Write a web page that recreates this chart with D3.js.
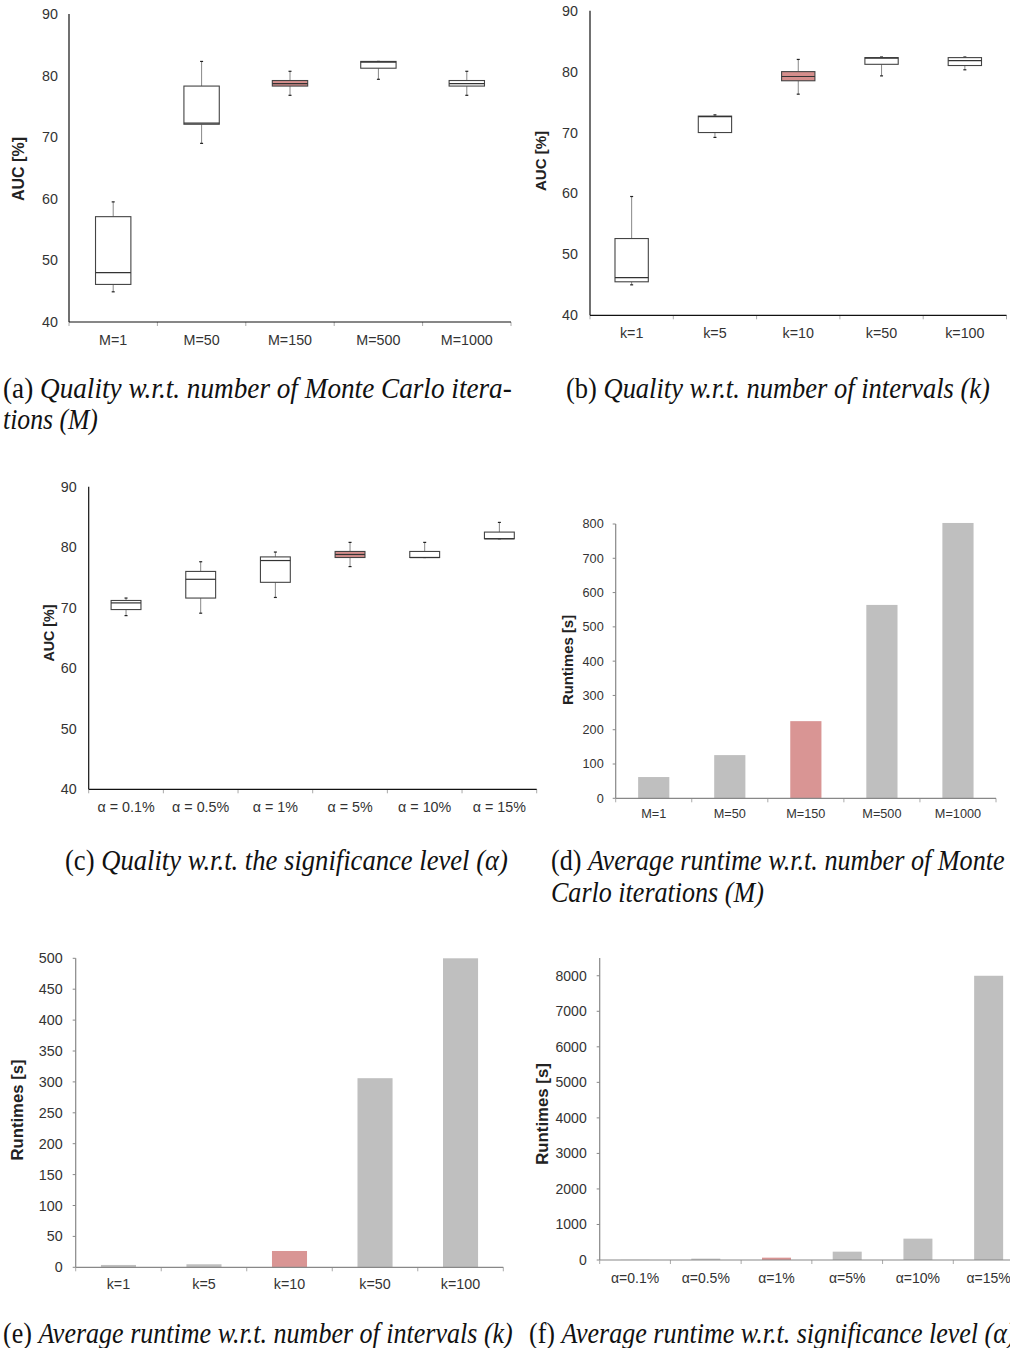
<!DOCTYPE html>
<html>
<head>
<meta charset="utf-8">
<script src="https://cdn.jsdelivr.net/npm/d3@7"></script>
<style>
  body { margin: 0; background: #fff; }
  svg { display: block; }
</style>
</head>
<body>
<div id="chart"></div>
<script>
// ---- data ----
const mCats = ["M=1", "M=50", "M=150", "M=500", "M=1000"];
const kCats = ["k=1", "k=5", "k=10", "k=50", "k=100"];
const alphaCats = ["α = 0.1%", "α = 0.5%", "α = 1%", "α = 5%", "α = 10%", "α = 15%"];
const alphaCatsShort = ["α=0.1%", "α=0.5%", "α=1%", "α=5%", "α=10%", "α=15%"];

// (a) AUC vs M  (min, q1, median, q3, max)
const aucM_min = [44.9, 69.0, 76.8, 79.4, 76.8];
const aucM_q1 = [46.1, 72.1, 78.3, 81.2, 78.3];
const aucM_med = [48.0, 72.3, 78.7, 82.2, 78.7];
const aucM_q3 = [57.1, 78.3, 79.2, 82.3, 79.2];
const aucM_max = [59.5, 82.3, 80.7, 82.3, 80.7];

// (b) AUC vs k
const aucK_min = [45.0, 69.2, 76.3, 79.3, 80.3];
const aucK_q1 = [45.5, 70.0, 78.5, 81.2, 81.0];
const aucK_med = [46.2, 72.6, 79.2, 82.2, 81.8];
const aucK_q3 = [52.6, 72.7, 80.0, 82.3, 82.3];
const aucK_max = [59.5, 72.9, 82.0, 82.4, 82.4];

// (c) AUC vs alpha
const aucA_min = [68.7, 69.1, 71.7, 76.8, 78.3, 81.4];
const aucA_q1 = [69.7, 71.6, 74.2, 78.3, 78.3, 81.4];
const aucA_med = [70.8, 74.7, 77.8, 78.8, 78.3, 81.4];
const aucA_q3 = [71.2, 76.0, 78.4, 79.3, 79.3, 82.5];
const aucA_max = [71.6, 77.6, 79.2, 80.8, 80.8, 84.1];

// runtimes [s]
const runM = [62, 126, 225, 564, 803];
const runK = [3.8, 4.9, 26.4, 306, 500];
const runA = [5, 38, 66, 235, 601, 8000];

const aucTicks = [40, 50, 60, 70, 80, 90];
const runMTicks = [0, 100, 200, 300, 400, 500, 600, 700, 800];
const runKTicks = [0, 50, 100, 150, 200, 250, 300, 350, 400, 450, 500];
const runATicks = [0, 1000, 2000, 3000, 4000, 5000, 6000, 7000, 8000];

// ---- style ----
const sans = "'Liberation Sans', Arial, sans-serif";
const serif = "'Liberation Serif', 'Times New Roman', serif";
const textColor = "#333";
const redFill = "#d99594";
const grayFill = "#bfbfbf";

const svg = d3.select("#chart").append("svg")
  .attr("width", 1010).attr("height", 1348);

function frame(p) {
  const x = d3.scaleBand().domain(p.cats).range([p.x0, p.x1]);
  const y = d3.scaleLinear().domain(p.domain).range([p.yBot, p.yTop]);
  const g = svg.append("g");
  const axisColor = p.axisColor;

  // y tick labels
  p.ticks.forEach(t => {
    g.append("text")
      .attr("x", p.x0 - p.labelGap)
      .attr("y", y(t))
      .attr("dy", "0.35em")
      .attr("text-anchor", "end")
      .attr("font-family", sans)
      .attr("font-size", p.fs)
      .attr("fill", textColor)
      .text(t);
    if (p.yTicks) {
      g.append("line")
        .attr("x1", p.x0 - 3).attr("x2", p.x0)
        .attr("y1", y(t)).attr("y2", y(t))
        .attr("stroke", axisColor).attr("stroke-width", 1);
    }
  });

  // category separators on x axis
  d3.range(p.cats.length + 1).forEach(i => {
    const xx = p.x0 + i * x.step();
    g.append("line")
      .attr("x1", xx).attr("x2", xx)
      .attr("y1", p.yBot).attr("y2", p.yBot + 4)
      .attr("stroke", "#aaa").attr("stroke-width", 1);
  });

  // x labels
  p.cats.forEach(c => {
    g.append("text")
      .attr("x", x(c) + x.bandwidth() / 2)
      .attr("y", p.yBot + p.xLabelDy)
      .attr("dy", "0.35em")
      .attr("text-anchor", "middle")
      .attr("font-family", sans)
      .attr("font-size", p.fs)
      .attr("fill", textColor)
      .text(c);
  });

  // y axis title
  g.append("text")
    .attr("transform", `translate(${p.titleX},${p.titleY}) rotate(-90)`)
    .attr("dy", "0.35em")
    .attr("text-anchor", "middle")
    .attr("font-family", sans)
    .attr("font-size", p.titleFs)
    .attr("font-weight", "bold")
    .attr("fill", "#222")
    .text(p.title);

  return { g, x, y };
}

function axes(g, p) {
  g.append("line")
    .attr("x1", p.x0).attr("x2", p.x0)
    .attr("y1", p.yTop).attr("y2", p.yBot)
    .attr("stroke", p.axisColor).attr("stroke-width", 1.2);
  g.append("line")
    .attr("x1", p.x0).attr("x2", p.x1)
    .attr("y1", p.yBot).attr("y2", p.yBot)
    .attr("stroke", p.axisColor).attr("stroke-width", 1.2);
}

function boxPanel(p, mins, q1s, meds, q3s, maxs, hi) {
  const { g, x, y } = frame(p);
  const w = x.bandwidth() * 0.4;
  p.cats.forEach((c, i) => {
    const cx = x(c) + x.bandwidth() / 2;
    // whiskers
    g.append("line")
      .attr("x1", cx).attr("x2", cx)
      .attr("y1", y(maxs[i])).attr("y2", y(q3s[i]))
      .attr("stroke", "#888").attr("stroke-width", 1);
    g.append("line")
      .attr("x1", cx).attr("x2", cx)
      .attr("y1", y(q1s[i])).attr("y2", y(mins[i]))
      .attr("stroke", "#888").attr("stroke-width", 1);
    [mins[i], maxs[i]].forEach(v => {
      g.append("line")
        .attr("x1", cx - 1.5).attr("x2", cx + 1.5)
        .attr("y1", y(v)).attr("y2", y(v))
        .attr("stroke", "#222").attr("stroke-width", 1.2);
    });
    // box
    g.append("rect")
      .attr("x", cx - w / 2)
      .attr("y", y(q3s[i]))
      .attr("width", w)
      .attr("height", Math.max(1, y(q1s[i]) - y(q3s[i])))
      .attr("fill", c === hi ? "#d58e8c" : "#fff")
      .attr("stroke", "#444")
      .attr("stroke-width", 1.1);
    g.append("line")
      .attr("x1", cx - w / 2).attr("x2", cx + w / 2)
      .attr("y1", y(meds[i])).attr("y2", y(meds[i]))
      .attr("stroke", "#333").attr("stroke-width", 1.2);
  });
  axes(g, p);
}

function barPanel(p, vals, hi) {
  const { g, x, y } = frame(p);
  const w = x.bandwidth() * 0.41;
  p.cats.forEach((c, i) => {
    const cx = x(c) + x.bandwidth() / 2;
    g.append("rect")
      .attr("x", cx - w / 2)
      .attr("y", y(vals[i]))
      .attr("width", w)
      .attr("height", p.yBot - y(vals[i]))
      .attr("fill", c === hi ? redFill : grayFill);
  });
  axes(g, p);
}

// (a)
boxPanel({ cats: mCats, x0: 69, x1: 511, yTop: 14, yBot: 322, domain: [40, 90], ticks: aucTicks,
  labelGap: 11, fs: 14.3, xLabelDy: 18, axisColor: "#111",
  title: "AUC [%]", titleFs: 16, titleX: 18, titleY: 169 },
  aucM_min, aucM_q1, aucM_med, aucM_q3, aucM_max, "M=150");

// (b)
boxPanel({ cats: kCats, x0: 590, x1: 1006.5, yTop: 10.7, yBot: 315.3, domain: [40, 90], ticks: aucTicks,
  labelGap: 12, fs: 14.3, xLabelDy: 18, axisColor: "#111",
  title: "AUC [%]", titleFs: 15, titleX: 541, titleY: 161 },
  aucK_min, aucK_q1, aucK_med, aucK_q3, aucK_max, "k=10");

// (c)
boxPanel({ cats: alphaCats, x0: 88.7, x1: 536.7, yTop: 486.7, yBot: 789.3, domain: [40, 90], ticks: aucTicks,
  labelGap: 12, fs: 14.3, xLabelDy: 18, axisColor: "#111",
  title: "AUC [%]", titleFs: 14.3, titleX: 49, titleY: 633 },
  aucA_min, aucA_q1, aucA_med, aucA_q3, aucA_max, "α = 5%");

// (d)
barPanel({ cats: mCats, x0: 615.7, x1: 996, yTop: 524, yBot: 798.3, domain: [0, 800], ticks: runMTicks,
  labelGap: 12, fs: 12.7, xLabelDy: 15, axisColor: "#888", yTicks: true,
  title: "Runtimes [s]", titleFs: 14.9, titleX: 568, titleY: 660 },
  runM, "M=150");

// (e)
barPanel({ cats: kCats, x0: 75.7, x1: 503.3, yTop: 958.3, yBot: 1267.3, domain: [0, 500], ticks: runKTicks,
  labelGap: 13, fs: 14.3, xLabelDy: 17, axisColor: "#888", yTicks: true,
  title: "Runtimes [s]", titleFs: 16.7, titleX: 17, titleY: 1110 },
  runK, "k=10");

// (f)
barPanel({ cats: alphaCatsShort, x0: 599.7, x1: 1024, yTop: 958, yBot: 1260, domain: [0, 8500], ticks: runATicks,
  labelGap: 13, fs: 14, xLabelDy: 18, axisColor: "#888", yTicks: true,
  title: "Runtimes [s]", titleFs: 16.8, titleX: 542, titleY: 1114 },
  runA, "α=1%");

// ---- captions ----
let lastScale = 1;
function caption(x, y, label, italic, width) {
  const t = svg.append("text")
    .attr("x", x).attr("y", y)
    .attr("font-family", serif)
    .attr("font-size", 29)
    .attr("fill", "#111");
  if (label) t.append("tspan").text(label + "\u00a0");
  t.append("tspan").attr("font-style", "italic").text(italic);
  const w = t.node().getBBox().width;
  const s = width ? width / w : lastScale;
  if (width) lastScale = s;
  t.attr("transform", `translate(${x},0) scale(${s},1) translate(${-x},0)`);
}

caption(3, 398, "(a)", "Quality w.r.t. number of Monte Carlo itera-", 509);
caption(3, 429, "", "tions (M)", 95);
caption(566, 398, "(b)", "Quality w.r.t. number of intervals (k)", 424);
caption(65, 870, "(c)", "Quality w.r.t. the significance level (α)", 443);
caption(551, 870, "(d)", "Average runtime w.r.t. number of Monte", 454);
caption(551, 902, "", "Carlo iterations (M)", 213);
caption(3, 1343, "(e)", "Average runtime w.r.t. number of intervals (k)", 510);
caption(529, 1343, "(f)", "Average runtime w.r.t. significance level (α)", null);
</script>
</body>
</html>
